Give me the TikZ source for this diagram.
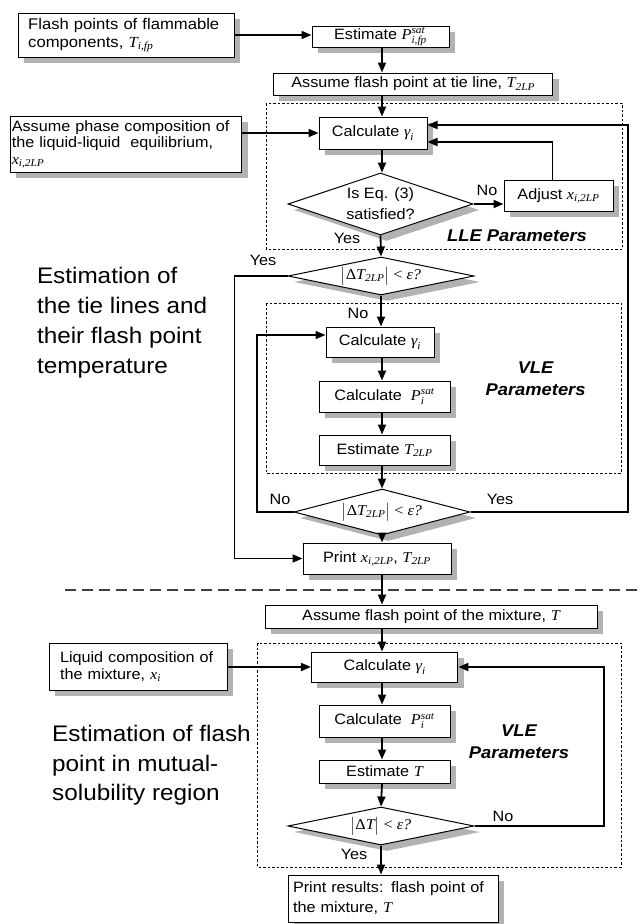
\documentclass[tikz,border=0pt]{standalone}
\usepackage{fontspec}
\usepackage{amsmath}
\setmainfont{Liberation Sans}[FakeStretch=1.08]
\newfontfamily\tms{Liberation Serif}[FakeStretch=1.08]
\usetikzlibrary{shapes.geometric,arrows.meta,shadows}
\newcommand\vmi[1]{\text{\tms\itshape #1}}
\newcommand\vmr[1]{\text{\tms #1}}
\begin{document}
\begin{tikzpicture}[x=1pt,y=-1pt,
  font=\fontsize{15}{18}\selectfont,
  shad/.style={drop shadow={shadow xshift=6pt,shadow yshift=-6pt,fill=black!30,opacity=1}},
  box/.style={draw,line width=1pt,fill=white,inner sep=0pt,shad},
  dia/.style={diamond,draw,line width=1pt,fill=white,inner sep=0pt,shad},
  dtext/.style={align=center,inner sep=0pt,font=\fontsize{15}{21}\selectfont},
  arr/.style={line width=1.8pt,-{Triangle[length=10pt,width=8pt]}},
  grp/.style={draw,line width=0.9pt,dash pattern=on 2.5pt off 2pt},
  sepline/.style={line width=1.3pt,black!75,dash pattern=on 11pt off 6pt},
  lbl/.style={inner sep=0pt},
  big/.style={align=left,inner sep=0pt,anchor=north west},
  grplabel/.style={font=\fontsize{17}{22}\selectfont\bfseries\itshape,align=center,inner sep=0pt}
]
\fill[white] (0,0) rectangle (641,924);
\useasboundingbox (0,0) rectangle (641,924);
\coordinate (fx) at (382,0);
\coordinate (rx) at (627.6,0);
\coordinate (rx2) at (604,0);
% groups
\draw[grp] (266,103) rectangle (622,249);
\draw[grp] (266,303) rectangle (621,473);
\draw[grp] (257.6,643) rectangle (621,867);
\draw[sepline] (65,590) -- (641,590);
% left texts
\node[big,font=\fontsize{22.5}{30}\selectfont] (t1) at (36.8,267) {Estimation of\\the tie lines and\\their flash point\\temperature};
\node[big,font=\fontsize{22.5}{29.5}\selectfont] (t2) at (52,725) {Estimation of flash\\point in mutual-\\solubility region};
% nodes
\node[box,minimum width=216pt,minimum height=44pt,text width=196pt,align=left,font=\fontsize{15.4}{18}\selectfont] (n1) at (126.2,35) {Flash points of flammable\\components, $\vmi{T}_{\vmi{i,fp}}$};
\node[box,minimum width=137pt,minimum height=21pt] (n2) at (380.5,36.5) {Estimate $\vmi{P}^{\vmi{sat}}_{\vmi{i,fp}}$};
\node[box,minimum width=279.5pt,minimum height=22pt] (n3) at (413.2,84) {Assume flash point at tie line, $\vmi{T}_{\vmi{2LP}}$};
\node[box,minimum width=231.6pt,minimum height=56pt,text width=228pt,align=left,font=\fontsize{15}{16.5}\selectfont] (n4) at (125.8,144) {Assume phase composition of\\the liquid-liquid\ \ equilibrium,\\$\vmi{x}_{\vmi{i,2LP}}$};
\node[box,minimum width=108pt,minimum height=32pt] (n5) at (373,133) {Calculate $\vmi{γ}_{\vmi{i}}$};
\node[dia,minimum width=185pt,minimum height=62pt,label={[dtext]center:{Is Eq. (3)\\satisfied?}}] (d1) at (380.5,204) {};
\node[box,minimum width=109pt,minimum height=31pt] (n6) at (558.5,195.5) {Adjust $\vmi{x}_{\vmi{i,2LP}}$};
\node[dia,minimum width=186pt,minimum height=38pt,label={[dtext]center:{$\bigl|\vmr{Δ}\vmi{T}_{\vmi{2LP}}\bigr|\mathrel{\vmr{<}}\vmi{ε?}$}}] (d2) at (381,276) {};
\node[box,minimum width=108pt,minimum height=30pt] (cg2) at (380,342) {Calculate $\vmi{γ}_{\vmi{i}}$};
\node[box,minimum width=131pt,minimum height=31pt] (cp2) at (384.5,396.5) {Calculate\ \ $\vmi{P}^{\vmi{sat}}_{\vmi{i}}$};
\node[box,minimum width=131pt,minimum height=30pt] (et2) at (384.5,450) {Estimate $\vmi{T}_{\vmi{2LP}}$};
\node[dia,minimum width=176pt,minimum height=46pt,label={[dtext]center:{$\bigl|\vmr{Δ}\vmi{T}_{\vmi{2LP}}\bigr|\mathrel{\vmr{<}}\vmi{ε?}$}}] (d3) at (382,512) {};
\node[box,minimum width=148pt,minimum height=31pt] (pr1) at (377,558.5) {Print $\vmi{x}_{\vmi{i,2LP}}$, $\vmi{T}_{\vmi{2LP}}$};
\node[box,minimum width=332pt,minimum height=23pt] (am) at (431,616.5) {Assume flash point of the mixture, $\vmi{T}$};
\node[box,minimum width=178pt,minimum height=47pt,text width=156pt,align=left,font=\fontsize{15}{17.5}\selectfont] (lq) at (138,666.5) {Liquid composition of\\the mixture, $\vmi{x}_{\vmi{i}}$};
\node[box,minimum width=146.5pt,minimum height=30pt] (cg3) at (384.7,667) {Calculate $\vmi{γ}_{\vmi{i}}$};
\node[box,minimum width=131pt,minimum height=32pt] (cp3) at (384.5,721) {Calculate\ \ $\vmi{P}^{\vmi{sat}}_{\vmi{i}}$};
\node[box,minimum width=131pt,minimum height=23pt] (et3) at (384.5,771.5) {Estimate $\vmi{T}$};
\node[dia,minimum width=186pt,minimum height=38pt,label={[dtext]center:{$\bigl|\vmr{Δ}\vmi{T}\bigr|\mathrel{\vmr{<}}\vmi{ε?}$}}] (d4) at (381,826) {};
\node[box,minimum width=210pt,minimum height=47pt,text width=200pt,align=left,font=\fontsize{15}{20}\selectfont] (pr2) at (393,898.5) {Print results: flash point of\\the mixture, $\vmi{T}$};
% labels
\node[lbl] (no1) at (487,190) {No};
\node[lbl] (yes1) at (347,238) {Yes};
\node[grplabel] (lle) at (517,236) {LLE Parameters};
\node[lbl] (yes2) at (263,260) {Yes};
\node[lbl] (no2) at (358,313) {No};
\node[grplabel] (vle1) at (535.6,379) {VLE\\Parameters};
\node[lbl] (no3) at (280,499) {No};
\node[lbl] (yes3) at (500,499) {Yes};
\node[grplabel] (vle2) at (519,741.5) {VLE\\Parameters};
\node[lbl] (no4) at (503,816) {No};
\node[lbl] (yes4) at (354,854) {Yes};
% connectors
\draw[arr] (n1.east) -- (n1.east -| n2.west);
\draw[arr] (n2.south -| fx) -- (n3.north -| fx);
\draw[arr] (n3.south -| fx) -- (n5.north -| fx);
\draw[arr] (n4.east |- n5.west) -- (n5.west);
\draw[arr] (n5.south -| fx) -- (d1.north -| fx);
\draw[arr] (d1.east) -- (d1.east -| n6.west);
\draw[arr] ([xshift=-6pt]n6.north) |- ([yshift=-9pt]n5.east);
\draw[arr] (d1.south) -- (d2.north);
\draw[arr] (d2.west) -- ++(-53,0) |- (pr1.west);
\draw[arr] (d2.south) -- (d2.south |- cg2.north);
\draw[arr] (cg2.south -| fx) -- (cp2.north -| fx);
\draw[arr] (cp2.south -| fx) -- (et2.north -| fx);
\draw[arr] (et2.south -| fx) -- (d3.north);
\draw[arr] (d3.west) -- ++(-36.4,0) |- ([yshift=7pt]cg2.west);
\draw[arr] (d3.east) -- (d3.east -| rx) |- ([yshift=8pt]n5.east);
\draw[arr] (d3.south) -- (d3.south |- pr1.north);
\draw[arr] (pr1.south -| fx) -- (am.north -| fx);
\draw[arr] (am.south -| fx) -- (cg3.north -| fx);
\draw[arr] (lq.east |- cg3.west) -- (cg3.west);
\draw[arr] (cg3.south -| fx) -- (cp3.north -| fx);
\draw[arr] (cp3.south -| fx) -- (et3.north -| fx);
\draw[arr] (et3.south -| fx) -- (d4.north);
\draw[arr] (d4.east) -- (d4.east -| rx2) |- (cg3.east);
\draw[arr] (d4.south) -- (d4.south |- pr2.north);
\end{tikzpicture}
\end{document}
